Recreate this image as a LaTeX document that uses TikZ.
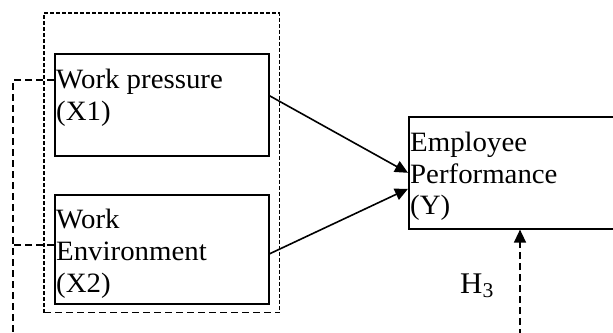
\documentclass[tikz,border=0pt]{standalone}
\usepackage{fontspec}
\setmainfont[FakeStretch=1.03]{Liberation Serif}
\usetikzlibrary{arrows.meta,calc}
\begin{document}
\begin{tikzpicture}[x=1pt,y=-1pt,
  box/.style={draw,line width=1.6pt,inner sep=0,anchor=north west},
  txt/.style={inner sep=0,anchor=base west,font=\fontsize{28}{32}\selectfont},
  arr/.style={line width=1.6pt,-{Triangle[length=13pt,width=12pt]}},
  dsh/.style={line width=1.4pt,dash pattern=on 7pt off 4pt},
  fine/.style={line width=1.2pt,dash pattern=on 4pt off 2pt}]
\useasboundingbox (0,0) rectangle (613,332);
\begin{scope}
\clip (0,0) rectangle (613,332);
% group box
\node[box,draw=none,minimum width=234pt,minimum height=298pt] (grp) at (44,13) {};
\draw[fine] (grp.south west) -- (grp.north west) -- (grp.north east) -- (grp.south east);
\draw[dsh] (grp.south west) -- (grp.south east);
% boxes
\node[box,minimum width=214pt,minimum height=102pt] (b1) at (54,53) {};
\node[box,minimum width=214pt,minimum height=109pt] (b2) at (54,194) {};
\node[box,minimum width=212pt,minimum height=112pt] (emp) at (408,116) {};
% texts
\node[txt] (t11) at (56,88) {Work pressure};
\node[txt] (t12) at (56,120) {(X1)};
\node[txt] (t21) at (56,228) {Work};
\node[txt] (t22) at (56,260) {Environment};
\node[txt] (t23) at (56,292) {(X2)};
\node[txt] (e1) at (410,151) {Employee};
\node[txt] (e2) at (410,183) {Performance};
\node[txt] (e3) at (410,214) {(Y)};
\node[inner sep=0,anchor=base west,font=\fontsize{30}{32}\selectfont] (h3) at (460,293) {H\raisebox{-4pt}{\fontsize{21}{21}\selectfont 3}};
% arrows
\draw[arr] ($(b1.east)+(0,-9)$) -- ($(emp.west)+(0,0)$);
\draw[arr] ($(b2.east)+(0,4.5)$) -- ($(emp.west)+(0,16)$);
% left dashed connector
\coordinate (l1) at (13,80);
\coordinate (l2) at (13,245);
\coordinate (lb) at (13,336);
\draw[dsh] (b1.west |- l1) -- (l1) -- (lb);
\draw[dsh] (b2.west |- l2) -- (l2);
% right dashed arrow
\coordinate (h) at (520,336);
\draw[dsh,-{Triangle[length=13pt,width=12pt]}] (h) -- (h |- emp.south);
\end{scope}
\end{tikzpicture}
\end{document}
